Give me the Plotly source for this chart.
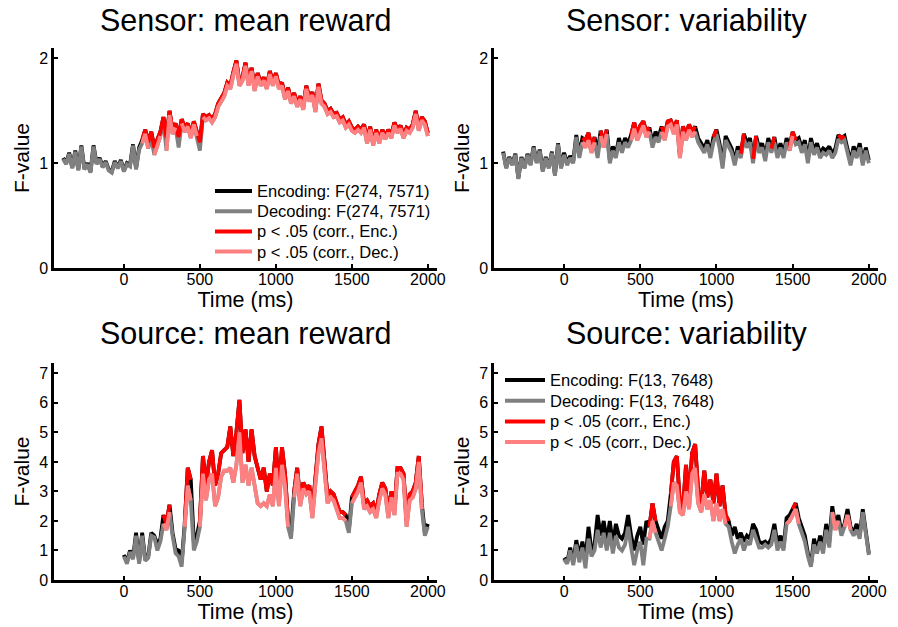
import plotly.graph_objects as go

# ---------------- data ----------------
time_sensor = list(range(-400, 2001, 20))
time_source = list(range(0, 2001, 20))

sensor_mean_enc = [
    1.05, 1.00, 1.10, 0.96, 1.12, 0.94, 1.17, 0.95, 1.00, 0.92,
    1.17, 1.00, 1.05, 0.97, 1.02, 0.94, 0.92, 1.02, 0.96, 1.03,
    0.93, 1.00, 0.98, 1.18, 0.95, 1.15, 1.22, 1.32, 1.20, 1.30,
    1.15, 1.22, 1.30, 1.44, 1.24, 1.50, 1.32, 1.38, 1.25, 1.42,
    1.34, 1.38, 1.28, 1.40, 1.30, 1.20, 1.47, 1.44, 1.46, 1.42,
    1.47, 1.57, 1.62, 1.67, 1.77, 1.74, 1.87, 1.98, 1.77, 1.82,
    1.96, 1.77, 1.91, 1.72, 1.86, 1.77, 1.82, 1.74, 1.88, 1.77,
    1.86, 1.74, 1.77, 1.64, 1.72, 1.60, 1.67, 1.57, 1.64, 1.54,
    1.74, 1.62, 1.68, 1.52, 1.76, 1.60, 1.57, 1.50, 1.52, 1.47,
    1.48, 1.42, 1.44, 1.37, 1.40, 1.34, 1.32, 1.35, 1.32, 1.37,
    1.22, 1.35, 1.20, 1.32, 1.22, 1.32, 1.26, 1.32, 1.27, 1.39,
    1.32, 1.36, 1.27, 1.34, 1.32, 1.37, 1.50, 1.34, 1.44, 1.40,
    1.29]
sensor_mean_dec = [
    1.04, 0.99, 1.09, 0.95, 1.11, 0.93, 1.16, 0.94, 0.99, 0.91,
    1.16, 0.99, 1.04, 0.96, 1.01, 0.93, 0.91, 1.01, 0.95, 1.02,
    0.92, 0.99, 0.97, 1.17, 0.94, 1.13, 1.19, 1.28, 1.14, 1.24,
    1.08, 1.18, 1.26, 1.40, 1.12, 1.46, 1.28, 1.34, 1.15, 1.38,
    1.30, 1.35, 1.24, 1.37, 1.26, 1.12, 1.44, 1.41, 1.43, 1.39,
    1.44, 1.54, 1.59, 1.64, 1.74, 1.71, 1.84, 1.95, 1.74, 1.79,
    1.93, 1.74, 1.88, 1.69, 1.83, 1.74, 1.79, 1.71, 1.85, 1.74,
    1.83, 1.71, 1.74, 1.61, 1.69, 1.57, 1.64, 1.54, 1.61, 1.51,
    1.71, 1.59, 1.65, 1.49, 1.73, 1.57, 1.54, 1.47, 1.49, 1.44,
    1.45, 1.39, 1.41, 1.34, 1.37, 1.31, 1.29, 1.32, 1.29, 1.34,
    1.19, 1.32, 1.17, 1.29, 1.19, 1.29, 1.23, 1.29, 1.24, 1.36,
    1.29, 1.33, 1.24, 1.31, 1.29, 1.34, 1.47, 1.31, 1.41, 1.37,
    1.26]
sensor_mean_enc_sig = [(120, 160), (180, 2000)]
sensor_mean_dec_sig = [(120, 160), (200, 240), (280, 340), (380, 480), (520, 2000)]

sensor_var_enc = [
    1.11, 0.96, 1.06, 0.99, 1.09, 0.86, 1.06, 0.96, 1.09, 0.99,
    1.16, 1.01, 1.13, 0.93, 1.06, 0.96, 1.11, 0.89, 1.19, 0.96,
    1.10, 1.00, 1.07, 1.02, 1.27, 1.08, 1.24, 1.22, 1.29, 1.15,
    1.25, 1.10, 1.31, 1.20, 1.32, 1.03, 1.16, 1.08, 1.24, 1.14,
    1.24, 1.19, 1.27, 1.39, 1.27, 1.36, 1.40, 1.30, 1.34, 1.19,
    1.30, 1.25, 1.35, 1.27, 1.40, 1.41, 1.33, 1.41, 1.09, 1.35,
    1.28, 1.37, 1.30, 1.35, 1.24, 1.19, 1.14, 1.22, 1.09, 1.25,
    1.32, 1.19, 0.99, 1.26, 1.19, 1.14, 1.02, 1.16, 1.09, 1.28,
    1.19, 1.24, 1.04, 1.26, 1.14, 1.19, 1.06, 1.24, 1.14, 1.25,
    1.09, 1.19, 1.09, 1.24, 1.16, 1.30, 1.22, 1.24, 1.14, 1.22,
    1.04, 1.24, 1.12, 1.19, 1.09, 1.14, 1.12, 1.16, 1.09, 1.14,
    1.27, 1.24, 1.26, 1.14, 1.01, 1.16, 1.09, 1.19, 1.01, 1.15,
    1.03]
sensor_var_dec = [
    1.10, 0.95, 1.05, 0.98, 1.08, 0.85, 1.05, 0.95, 1.08, 0.98,
    1.15, 1.00, 1.12, 0.92, 1.05, 0.95, 1.10, 0.88, 1.18, 0.95,
    1.08, 0.98, 1.05, 1.00, 1.25, 1.05, 1.20, 1.15, 1.22, 1.10,
    1.20, 1.05, 1.26, 1.15, 1.28, 1.00, 1.12, 1.05, 1.20, 1.10,
    1.20, 1.15, 1.22, 1.33, 1.22, 1.30, 1.36, 1.25, 1.30, 1.15,
    1.25, 1.20, 1.30, 1.22, 1.35, 1.37, 1.28, 1.37, 1.05, 1.30,
    1.22, 1.32, 1.25, 1.30, 1.20, 1.15, 1.10, 1.18, 1.05, 1.20,
    1.28, 1.15, 0.95, 1.22, 1.15, 1.10, 0.98, 1.12, 1.05, 1.23,
    1.15, 1.20, 1.00, 1.22, 1.10, 1.15, 1.02, 1.20, 1.10, 1.20,
    1.05, 1.15, 1.05, 1.20, 1.12, 1.26, 1.18, 1.20, 1.10, 1.18,
    1.00, 1.20, 1.08, 1.15, 1.05, 1.10, 1.08, 1.12, 1.05, 1.10,
    1.23, 1.20, 1.22, 1.10, 0.98, 1.12, 1.05, 1.15, 0.98, 1.12,
    1.00]
sensor_var_enc_sig = [(120, 200), (240, 280), (440, 560), (640, 860), (980, 1000),
                      (1160, 1180), (1240, 1260), (1360, 1380), (1480, 1520), (1800, 1840)]
sensor_var_dec_sig = [(120, 200), (240, 280), (440, 560), (640, 860), (1480, 1500)]

source_mean_enc = [
    0.85, 0.60, 1.00, 0.75, 1.60, 0.60, 1.60, 0.70, 0.80, 1.60,
    1.50, 1.20, 1.40, 2.20, 1.90, 2.55, 1.60, 1.05, 1.00, 0.60,
    1.90, 3.80, 3.40, 1.30, 1.50, 2.00, 4.20, 3.20, 4.00, 4.40,
    3.20, 3.60, 4.30, 4.40, 4.50, 5.20, 4.20, 5.00, 6.10, 4.30,
    5.10, 4.00, 5.10, 4.20, 3.80, 3.40, 3.80, 3.00, 3.60, 3.20,
    4.50, 3.00, 4.50, 3.60, 2.00, 1.60, 3.00, 3.80, 2.70, 3.30,
    3.10, 3.20, 2.30, 3.50, 4.60, 5.20, 4.00, 2.80, 3.00, 2.90,
    2.60, 2.30, 2.30, 2.20, 1.70, 2.80, 3.00, 3.20, 3.50, 2.60,
    2.70, 2.50, 2.60, 2.30, 2.90, 3.30, 3.10, 2.30, 3.00, 2.40,
    3.80, 3.80, 3.60, 2.00, 2.90, 3.00, 3.30, 4.20, 2.60, 1.60,
    1.90]
source_mean_dec = [
    0.80, 0.55, 0.95, 0.70, 1.50, 0.55, 1.50, 0.65, 0.75, 1.50,
    1.45, 1.00, 1.30, 1.90, 1.70, 2.30, 1.50, 0.90, 0.80, 0.45,
    1.80, 3.20, 2.70, 1.00, 1.30, 1.80, 3.60, 2.70, 3.40, 3.60,
    2.50, 2.80, 3.50, 3.70, 3.70, 3.80, 3.30, 3.90, 5.00, 3.30,
    3.90, 3.20, 3.80, 3.20, 2.60, 2.50, 2.60, 2.50, 2.90, 2.50,
    3.80, 2.50, 3.90, 3.20, 1.80, 1.40, 2.80, 3.60, 2.50, 3.10,
    2.90, 3.00, 2.10, 3.30, 4.30, 4.80, 3.70, 2.60, 2.80, 2.70,
    2.40, 2.10, 2.10, 2.00, 1.60, 2.60, 2.80, 3.00, 3.30, 2.40,
    2.50, 2.30, 2.40, 2.10, 2.70, 3.10, 2.90, 2.10, 2.80, 2.20,
    3.60, 3.60, 3.40, 1.80, 2.70, 2.80, 3.10, 4.00, 2.40, 1.50,
    1.80]
source_mean_enc_sig = [(260, 300), (400, 440), (500, 1080), (1120, 1460), (1500, 1960)]
source_mean_dec_sig = [(260, 300), (400, 440), (500, 1080), (1120, 1460), (1500, 1960)]

source_var_enc = [
    0.75, 0.60, 1.10, 0.60, 1.35, 0.80, 1.30, 0.70, 1.80, 1.00,
    1.20, 2.20, 1.50, 2.00, 1.30, 2.00, 1.20, 1.90, 1.50, 1.40,
    1.60, 2.20, 1.50, 1.00, 1.50, 1.80, 1.20, 2.00, 1.80, 2.60,
    2.00, 1.70, 1.40, 1.80, 2.00, 2.90, 4.00, 4.20, 2.60, 2.40,
    3.90, 2.80, 4.30, 4.60, 3.00, 2.60, 3.70, 2.80, 3.40, 2.60,
    3.60, 2.50, 3.20, 2.20, 2.00, 1.50, 1.80, 1.40, 1.60, 1.30,
    1.50, 1.40, 1.90, 1.70, 1.30, 1.25, 1.30, 1.20, 1.40, 1.90,
    1.20, 1.50, 1.10, 2.10, 2.20, 2.40, 2.60, 2.10, 1.80, 1.50,
    0.90, 0.50, 1.40, 1.00, 1.50, 1.10, 1.90, 1.30, 2.50, 1.80,
    2.20, 1.60, 1.90, 2.40, 1.80, 1.60, 1.90, 1.50, 2.40, 1.60,
    0.90]
source_var_dec = [
    0.70, 0.55, 1.00, 0.50, 1.20, 0.60, 1.10, 0.40, 1.40, 0.80,
    1.00, 1.70, 1.10, 1.60, 1.00, 1.60, 0.90, 1.50, 1.10, 1.00,
    1.20, 1.80, 1.10, 0.50, 1.00, 1.30, 0.50, 1.40, 1.40, 2.00,
    1.60, 1.30, 1.00, 1.40, 1.80, 2.50, 3.30, 3.20, 2.30, 2.20,
    3.00, 2.40, 3.60, 3.80, 2.60, 2.30, 2.90, 2.40, 2.70, 2.00,
    2.60, 2.00, 2.40, 1.90, 1.80, 1.30, 0.90, 1.20, 1.40, 1.00,
    1.30, 1.20, 1.70, 1.40, 1.10, 1.10, 1.20, 1.10, 1.20, 1.70,
    1.00, 1.30, 1.00, 1.90, 2.00, 2.20, 2.40, 1.90, 1.60, 1.30,
    0.80, 0.45, 1.20, 0.90, 1.30, 0.90, 1.70, 1.10, 2.30, 1.70,
    2.00, 1.50, 1.80, 2.20, 1.70, 1.50, 1.70, 1.40, 2.30, 1.50,
    0.85]
source_var_enc_sig = [(560, 600), (700, 1080), (1500, 1520)]
source_var_dec_sig = [(560, 600), (700, 1060), (1460, 1540), (1760, 1800), (1840, 1880)]

titles = ["Sensor: mean reward", "Sensor: variability",
          "Source: mean reward", "Source: variability"]
legend_sensor = ["Encoding: F(274, 7571)", "Decoding: F(274, 7571)",
                 "p < .05 (corr., Enc.)", "p < .05 (corr., Dec.)"]
legend_source = ["Encoding: F(13, 7648)", "Decoding: F(13, 7648)",
                 "p < .05 (corr., Enc.)", "p < .05 (corr., Dec.)"]

# ---------------- style ----------------
W, H = 898, 627
FONT = "Liberation Sans, Arial, Helvetica, sans-serif"
COL_ENC = "#000000"
COL_DEC = "#808080"
COL_ENC_SIG = "#ff0000"
COL_DEC_SIG = "#ff8080"
COLORS = [COL_ENC, COL_DEC, COL_ENC_SIG, COL_DEC_SIG]
LW = 3.8


def masked(t, v, intervals):
    return [val if any(a <= tt <= b for a, b in intervals) else None
            for tt, val in zip(t, v)]


panels = [
    (time_sensor, sensor_mean_enc, sensor_mean_dec, sensor_mean_enc_sig, sensor_mean_dec_sig),
    (time_sensor, sensor_var_enc, sensor_var_dec, sensor_var_enc_sig, sensor_var_dec_sig),
    (time_source, source_mean_enc, source_mean_dec, source_mean_enc_sig, source_mean_dec_sig),
    (time_source, source_var_enc, source_var_dec, source_var_enc_sig, source_var_dec_sig),
]
names_per_panel = [legend_sensor, legend_sensor, legend_source, legend_source]

fig = go.Figure()
for i, (t, enc, dec, esig, dsig) in enumerate(panels):
    ax = "" if i == 0 else str(i + 1)
    names = names_per_panel[i]
    series = [enc, dec, masked(t, enc, esig), masked(t, dec, dsig)]
    for y, col, name in zip(series, COLORS, names):
        fig.add_trace(go.Scatter(
            x=t, y=y, mode="lines", name=name,
            line=dict(color=col, width=LW),
            xaxis="x" + ax, yaxis="y" + ax,
            connectgaps=False, hoverinfo="skip", showlegend=False))

xdom = [[54 / W, 437 / W], [494 / W, 878 / W]]
ydom = [[1 - 268 / H, 1 - 48 / H], [1 - 580 / H, 1 - 363 / H]]

axis_common = dict(showline=True, linecolor="black", linewidth=2.5,
                   ticks="inside", ticklen=4, tickwidth=2, tickcolor="black",
                   showgrid=False, zeroline=False, automargin=False,
                   tickfont=dict(family=FONT, size=16, color="black"))

layout = dict(
    width=W, height=H,
    margin=dict(l=0, r=0, t=0, b=0),
    paper_bgcolor="white", plot_bgcolor="white",
    font=dict(family=FONT, color="black"),
    showlegend=False,
    annotations=[], shapes=[],
)
for i in range(4):
    ax = "" if i == 0 else str(i + 1)
    col = i % 2
    row = i // 2
    layout["xaxis" + ax] = dict(
        axis_common, domain=xdom[col], range=[-460, 2060],
        tickvals=[0, 500, 1000, 1500, 2000],
        anchor="y" + ax, ticklabelstandoff=-5,
        title=dict(text="Time (ms)", font=dict(family=FONT, size=21.5), standoff=0),
    )
    layout["yaxis" + ax] = dict(
        axis_common, domain=ydom[row],
        range=[0, 2.1] if row == 0 else [0, 7.35],
        tickvals=[0, 1, 2] if row == 0 else list(range(8)),
        anchor="x" + ax,
        title=dict(text="F-value", font=dict(family=FONT, size=21), standoff=4),
    )
    layout["annotations"].append(dict(
        text=titles[i], xref="paper", yref="paper",
        x=(xdom[col][0] + xdom[col][1]) / 2,
        y=(1 - 20 / H) if row == 0 else (1 - 333 / H),
        xanchor="center", yanchor="middle", showarrow=False,
        font=dict(family=FONT, size=30.5, color="black"),
    ))

# legends (sample line + label), one per legend-bearing panel
legend_specs = [
    (legend_sensor, 215, 252, 255, 191, 20.2),
    (legend_source, 505, 545, 548, 380, 20.7),
]
for names, lx0, lx1, tx, y0, dy in legend_specs:
    for k, (name, col) in enumerate(zip(names, COLORS)):
        yy = y0 + k * dy
        layout["shapes"].append(dict(
            type="line", xref="paper", yref="paper",
            x0=lx0 / W, x1=lx1 / W, y0=1 - yy / H, y1=1 - yy / H,
            line=dict(color=col, width=4)))
        layout["annotations"].append(dict(
            text=name, xref="paper", yref="paper", x=tx / W, y=1 - yy / H,
            xanchor="left", yanchor="middle", showarrow=False,
            font=dict(family=FONT, size=16.5, color="black")))

fig.update_layout(**layout)
fig.write_html("out.html",
               config={"displayModeBar": False, "staticPlot": False},
               post_script="document.body.style.margin='0px';"
                           "document.body.style.overflow='hidden';")
